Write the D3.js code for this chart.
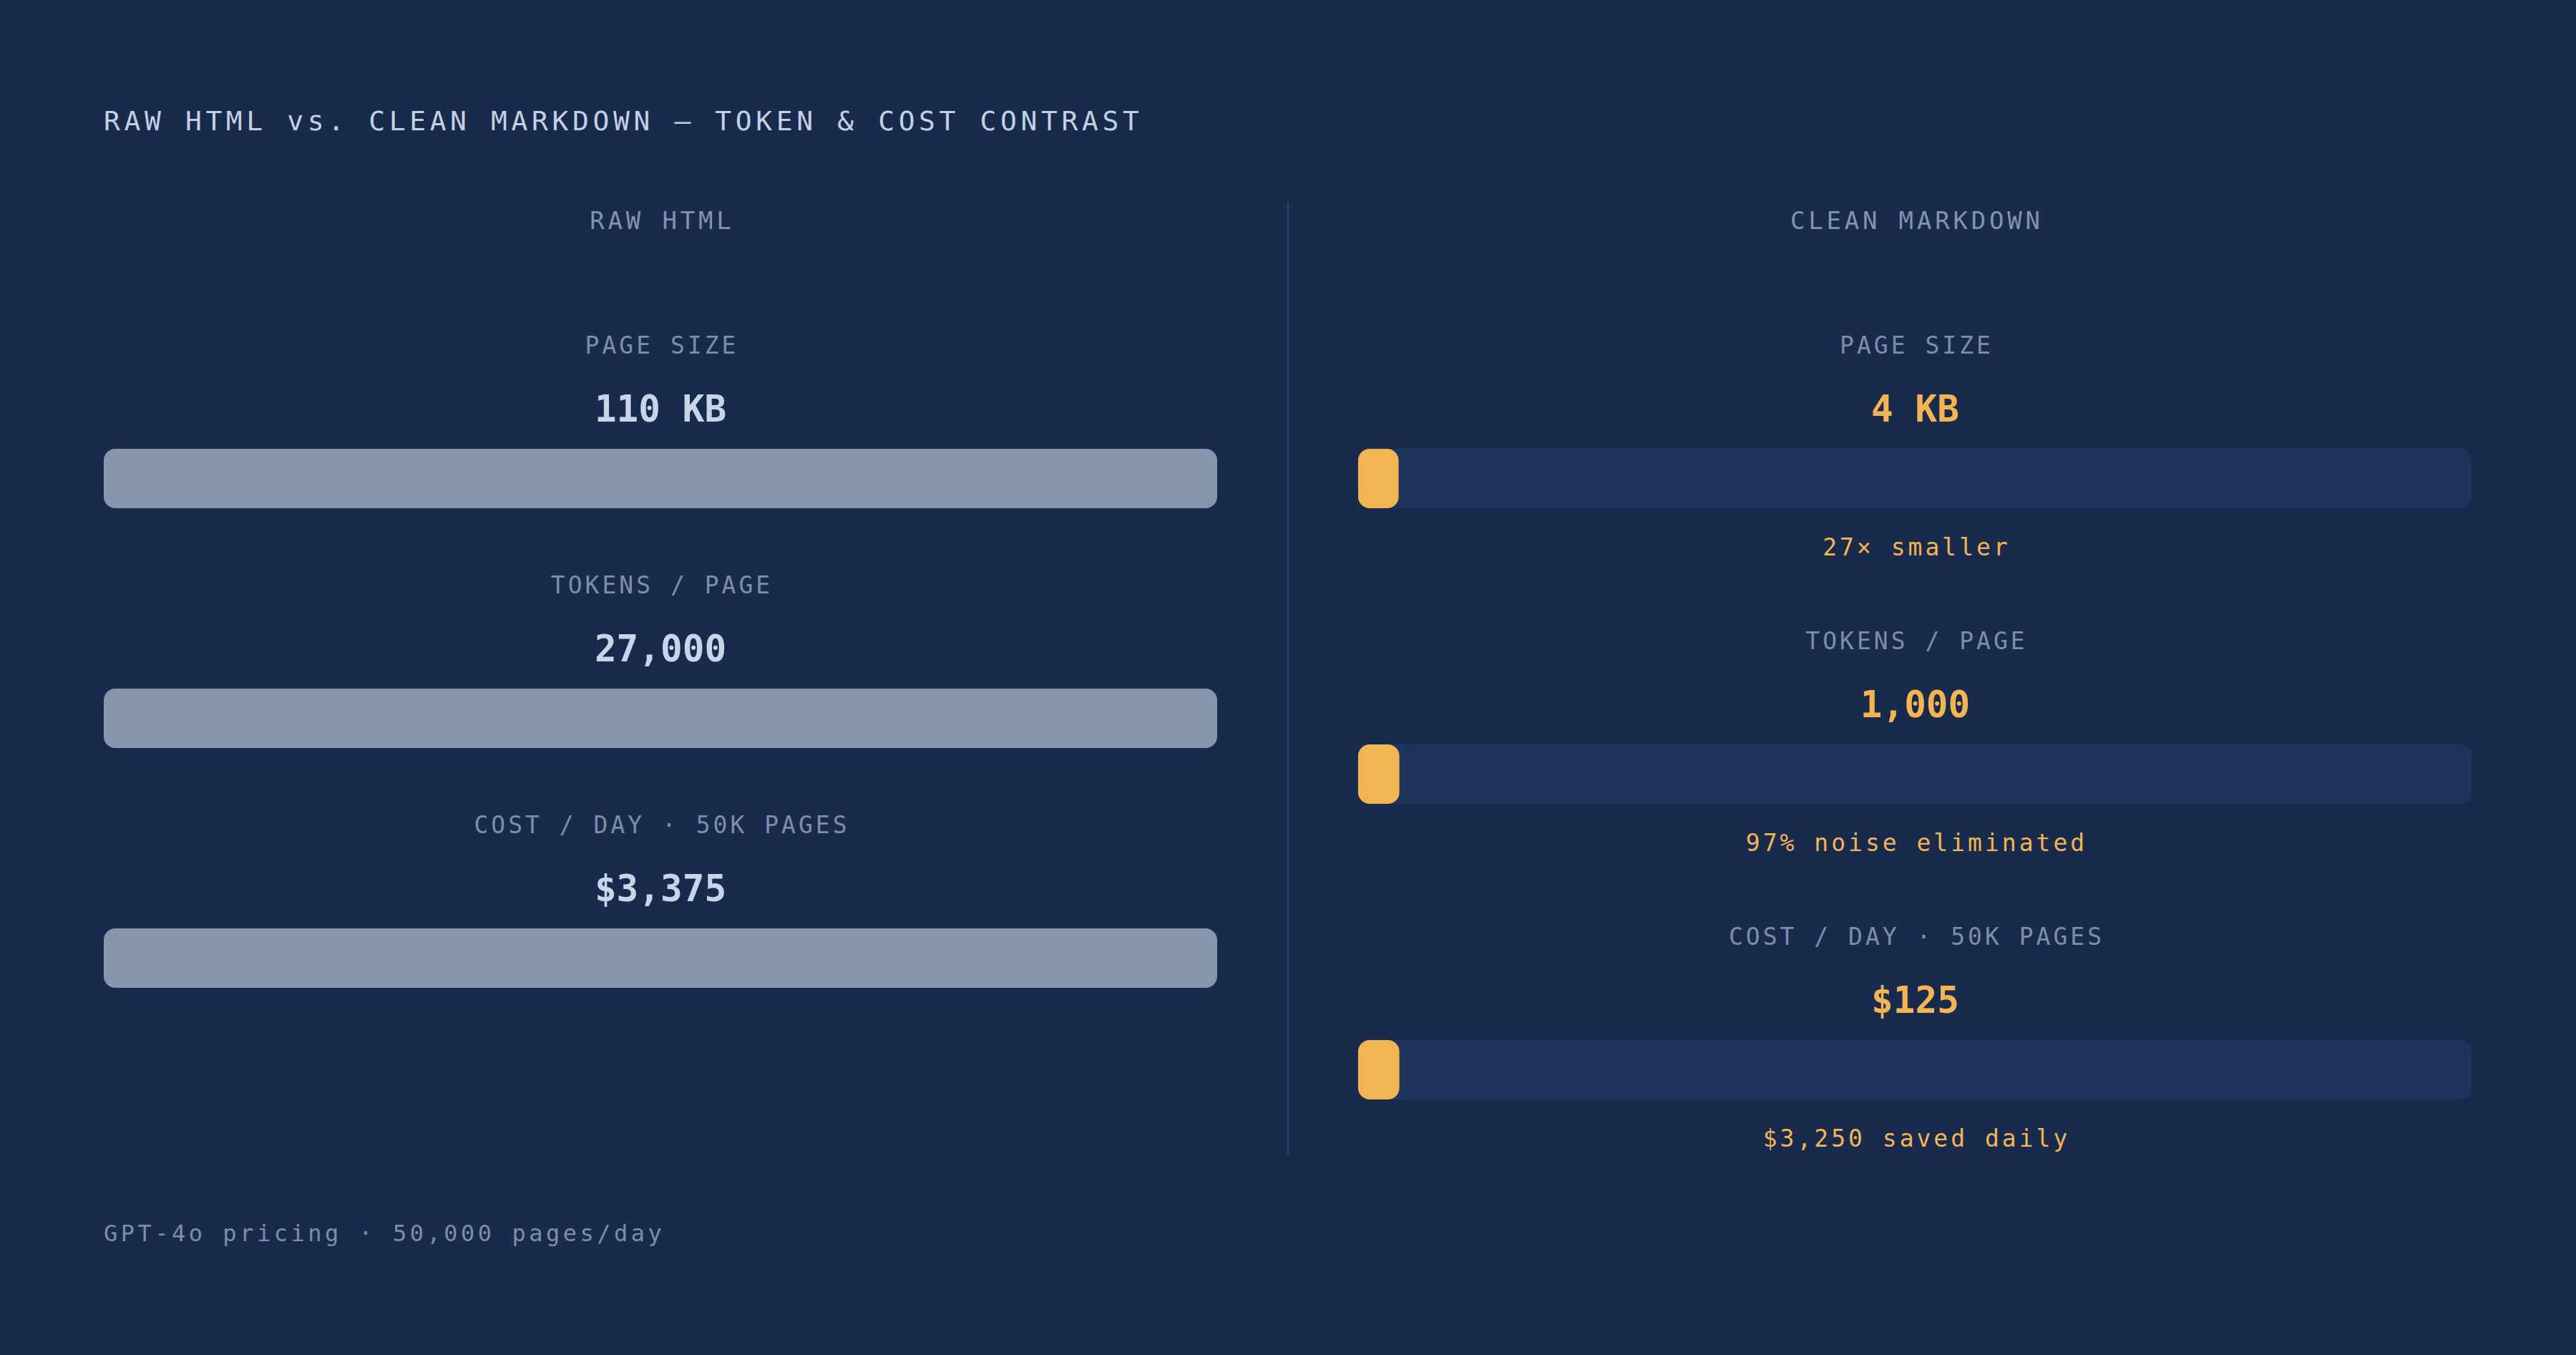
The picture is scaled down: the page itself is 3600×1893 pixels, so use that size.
<!DOCTYPE html>
<html>
<head>
<meta charset="utf-8">
<script src="https://cdn.jsdelivr.net/npm/d3@7"></script>
<style>
  html, body { margin: 0; padding: 0; background: #192b4c; }
  svg { display: block; }
</style>
</head>
<body>
<script>
// ---- data ----
const panels = ["RAW HTML", "CLEAN MARKDOWN"];
const metrics = ["PAGE SIZE", "TOKENS / PAGE", "COST / DAY · 50K PAGES"];
const rawValues = [110, 27000, 3375];
const cleanValues = [4, 1000, 125];
const rawLabels = ["110 KB", "27,000", "$3,375"];
const cleanLabels = ["4 KB", "1,000", "$125"];
const cleanNotes = ["27× smaller", "97% noise eliminated", "$3,250 saved daily"];
const title = "RAW HTML vs. CLEAN MARKDOWN — TOKEN & COST CONTRAST";
const footer = "GPT-4o pricing · 50,000 pages/day";

// ---- layout ----
const W = 3600, H = 1893;
const FONT = "'DejaVu Sans Mono', 'Liberation Mono', monospace";
const C = {
  bg: "#192b4c", title: "#c5d0e3", header: "#8592ad", label: "#7f8da8",
  value: "#c8d4e8", orange: "#f3b453", rawBar: "#8896ad", track: "#1f345d",
  divider: "#33466b", footer: "#7f8da8"
};

const svg = d3.select("body").append("svg").attr("width", W).attr("height", H);
svg.append("rect").attr("width", W).attr("height", H).attr("fill", C.bg);

function txt(x, y, s, size, color, opts = {}) {
  const ls = opts.ls || 0;
  const anchor = opts.anchor || "middle";
  return svg.append("text")
    .attr("x", anchor === "middle" ? x + ls / 2 : x)
    .attr("y", y)
    .attr("text-anchor", anchor)
    .attr("font-family", FONT)
    .attr("font-size", size)
    .attr("font-weight", opts.bold ? 700 : 400)
    .attr("letter-spacing", ls)
    .attr("fill", color)
    .text(s);
}

// title
txt(145, 182, title, 38, C.title, { anchor: "start", ls: 5.6 });

// columns
const leftX0 = 145, leftX1 = 1701;
const rightX0 = 1898, rightX1 = 3455;
const trackW = leftX1 - leftX0;
const colCenters = [(leftX0 + leftX1) / 2, (rightX0 + rightX1) / 2];

panels.forEach((p, i) => txt(colCenters[i], 320, p, 34, C.header, { ls: 4.8 }));

// divider
svg.append("line").attr("x1", 1800).attr("x2", 1800).attr("y1", 282).attr("y2", 1614)
  .attr("stroke", C.divider).attr("stroke-width", 2);

const barH = 83, rx = 16;

// section vertical position scales
const leftY = d3.scaleLinear().domain([0, 1]).range([0, 335]);
const rightY = d3.scaleLinear().domain([0, 1]).range([0, 413]);

metrics.forEach((m, i) => {
  const x = d3.scaleLinear().domain([0, rawValues[i]]).range([0, trackW]);

  // left panel
  const oy = leftY(i);
  txt(colCenters[0], 494 + oy, m, 33, C.label, { ls: 4 });
  txt(colCenters[0], 589 + oy, rawLabels[i], 51, C.value, { bold: true });
  svg.append("rect").attr("x", leftX0).attr("y", 627 + oy)
    .attr("width", x(rawValues[i])).attr("height", barH)
    .attr("rx", rx).attr("fill", C.rawBar);

  // right panel
  const ry = rightY(i);
  txt(colCenters[1], 494 + ry, m, 33, C.label, { ls: 4 });
  txt(colCenters[1], 589 + ry, cleanLabels[i], 51, C.orange, { bold: true });
  svg.append("rect").attr("x", rightX0).attr("y", 627 + ry)
    .attr("width", x(rawValues[i])).attr("height", barH)
    .attr("rx", rx).attr("fill", C.track);
  svg.append("rect").attr("x", rightX0).attr("y", 627 + ry)
    .attr("width", x(cleanValues[i])).attr("height", barH)
    .attr("rx", rx).attr("fill", C.orange);
  txt(colCenters[1], 776 + ry, cleanNotes[i], 33, C.orange, { ls: 4 });
});

// footer
txt(145, 1734, footer, 32, C.footer, { anchor: "start", ls: 4.5 });
</script>
</body>
</html>
